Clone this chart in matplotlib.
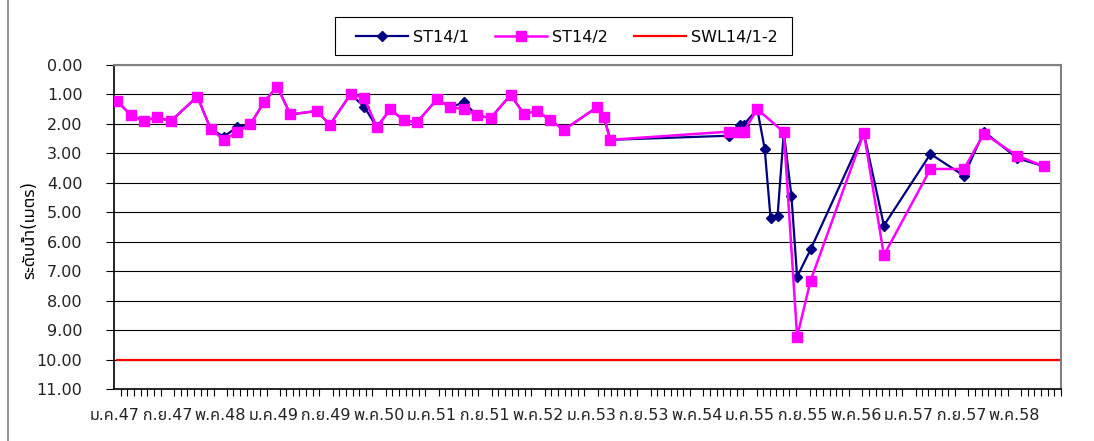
import matplotlib
matplotlib.use("Agg")
import matplotlib.pyplot as plt
import matplotlib.dates as mdates
import pandas as pd
from matplotlib import font_manager
from matplotlib.ft2font import FT2Font
from matplotlib.ticker import FixedLocator, FormatStrFormatter, MultipleLocator


def find_thai_family():
    """Look for an installed family that has Thai glyphs."""
    found = []
    for f in font_manager.fontManager.ttflist:
        try:
            if 0x0E21 in FT2Font(f.fname).get_charmap():
                found.append(f.name)
        except Exception:
            pass
    for pref in ["Tahoma", "Noto Sans Thai", "Loma", "Garuda", "Sarabun"]:
        if pref in found:
            return pref
    return found[0] if found else None


thai = find_thai_family()
plt.rcParams["font.family"] = ["DejaVu Sans"] + ([thai] if thai else [])

# data
dates = ["2004-01-12", "2004-03-16", "2004-05-15", "2004-07-17", "2004-09-16",
         "2005-01-17", "2005-03-19", "2005-05-19", "2005-07-20", "2005-09-18",
         "2005-11-19", "2006-01-19", "2006-03-20", "2006-07-20", "2006-09-18",
         "2006-12-22", "2007-02-22", "2007-04-22", "2007-06-23", "2007-08-24",
         "2007-10-24", "2008-01-24", "2008-03-25", "2008-05-25", "2008-07-26",
         "2008-09-26", "2008-12-27", "2009-02-27", "2009-04-28", "2009-06-28",
         "2009-08-29", "2010-01-27", "2010-03-01", "2010-03-30", "2011-09-29",
         "2011-11-15", "2011-12-03", "2012-02-04", "2012-03-09", "2012-04-05",
         "2012-05-07", "2012-06-05", "2012-07-10", "2012-08-05", "2012-10-06",
         "2013-06-08", "2013-09-08", "2014-04-10", "2014-09-11", "2014-12-12",
         "2015-05-13", "2015-09-14"]
st14_1 = [1.21, 1.69, 1.90, 1.77, 1.91, 1.07, 2.18, 2.43, 2.10, 2.01,
          1.26, 0.73, 1.68, 1.56, 2.03, 0.99, 1.41, 2.11, 1.50, 1.88,
          1.94, 1.16, 1.44, 1.27, 1.71, 1.80, 1.02, 1.67, 1.55, 1.88,
          2.20, 1.44, 1.77, 2.54, 2.40, 2.03, 2.03, 1.50, 2.85, 5.20,
          5.13, 2.28, 4.46, 7.19, 6.26, 2.31, 5.45, 3.02, 3.76, 2.26,
          3.16, 3.44]
st14_2 = [1.21, 1.69, 1.90, 1.77, 1.91, 1.07, 2.18, 2.54, 2.28, 2.01,
          1.26, 0.73, 1.68, 1.56, 2.03, 0.99, 1.11, 2.11, 1.50, 1.88,
          1.94, 1.16, 1.44, 1.49, 1.71, 1.80, 1.02, 1.67, 1.55, 1.88,
          2.20, 1.44, 1.77, 2.54, 2.26, 2.26, 2.26, 1.50, None, None,
          None, 2.28, None, 9.22, 7.32, 2.31, 6.46, 3.53, 3.53, 2.33,
          3.08, 3.44]
swl_dates = ["2004-01-12", "2015-11-21"]
swl = [10.0, 10.0]

tick_dates = pd.date_range("2004-01-01", "2015-05-01", freq="8MS")
tick_labels = ["ม.ค.47", "ก.ย.47", "พ.ค.48", "ม.ค.49", "ก.ย.49", "พ.ค.50",
               "ม.ค.51", "ก.ย.51", "พ.ค.52", "ม.ค.53", "ก.ย.53", "พ.ค.54",
               "ม.ค.55", "ก.ย.55", "พ.ค.56", "ม.ค.57", "ก.ย.57", "พ.ค.58"]

df = pd.DataFrame({"date": pd.to_datetime(dates),
                   "ST14/1": pd.to_numeric(pd.Series(st14_1, dtype="object")),
                   "ST14/2": pd.to_numeric(pd.Series(st14_2, dtype="object"))})

fig = plt.figure(figsize=(10.94, 4.41), dpi=100)
ax = fig.add_axes([0.1045, 0.1179, 0.8653, 0.7347])

s1 = df.dropna(subset=["ST14/1"])
s2 = df.dropna(subset=["ST14/2"])
ax.plot(s1["date"], s1["ST14/1"], color="#000080", lw=1.6, marker="D",
        ms=5.5, label="ST14/1", zorder=3)
ax.plot(s2["date"], s2["ST14/2"], color="#FF00FF", lw=1.8, marker="s",
        ms=7, label="ST14/2", zorder=4)
ax.plot(pd.to_datetime(swl_dates), swl, color="#FF0000", lw=1.6,
        label="SWL14/1-2", zorder=2)

ax.set_xlim(pd.Timestamp("2004-01-01"), pd.Timestamp("2015-12-01"))
ax.set_ylim(11, 0)
ax.yaxis.set_major_locator(MultipleLocator(1))
ax.yaxis.set_major_formatter(FormatStrFormatter("%.2f"))
ax.grid(axis="y", color="black", lw=0.8)
ax.set_axisbelow(True)

ax.xaxis.set_major_locator(FixedLocator(mdates.date2num(tick_dates)))
ax.set_xticklabels(tick_labels)
ax.xaxis.set_minor_locator(mdates.MonthLocator())
ax.tick_params(axis="x", which="major", length=0, pad=14, labelsize=11.5,
               colors="#222222")
ax.tick_params(axis="x", which="minor", length=5, width=0.8, direction="out")
ax.tick_params(axis="y", length=6, width=0.8, labelsize=11.5, pad=17,
               labelcolor="#222222")
ax.set_ylabel("ระดับน้ำ(เมตร)", fontsize=12)
ax.yaxis.set_label_coords(-0.0805, 0.49)

for side in ["top", "right"]:
    ax.spines[side].set_color("#808080")
    ax.spines[side].set_linewidth(1.5)
for side in ["left", "bottom"]:
    ax.spines[side].set_color("black")
    ax.spines[side].set_linewidth(1.2)

fig.legend(loc="center", bbox_to_anchor=(0.518, 0.916), ncol=3,
           frameon=False, fontsize=11.5, handlelength=3.3,
           handletextpad=0.3, columnspacing=1.6)
box = plt.Rectangle((335 / 1094, 1 - 55 / 441), 457 / 1094, 38 / 441,
                    transform=fig.transFigure, fill=False, ec="black", lw=0.8)
fig.add_artist(box)

# left edge of the outer chart frame
fig.add_artist(plt.Line2D([8 / 1094, 8 / 1094], [0, 1], transform=fig.transFigure,
                          color="#7f7f7f", lw=1.2))

fig.savefig("out.png", dpi=100)
